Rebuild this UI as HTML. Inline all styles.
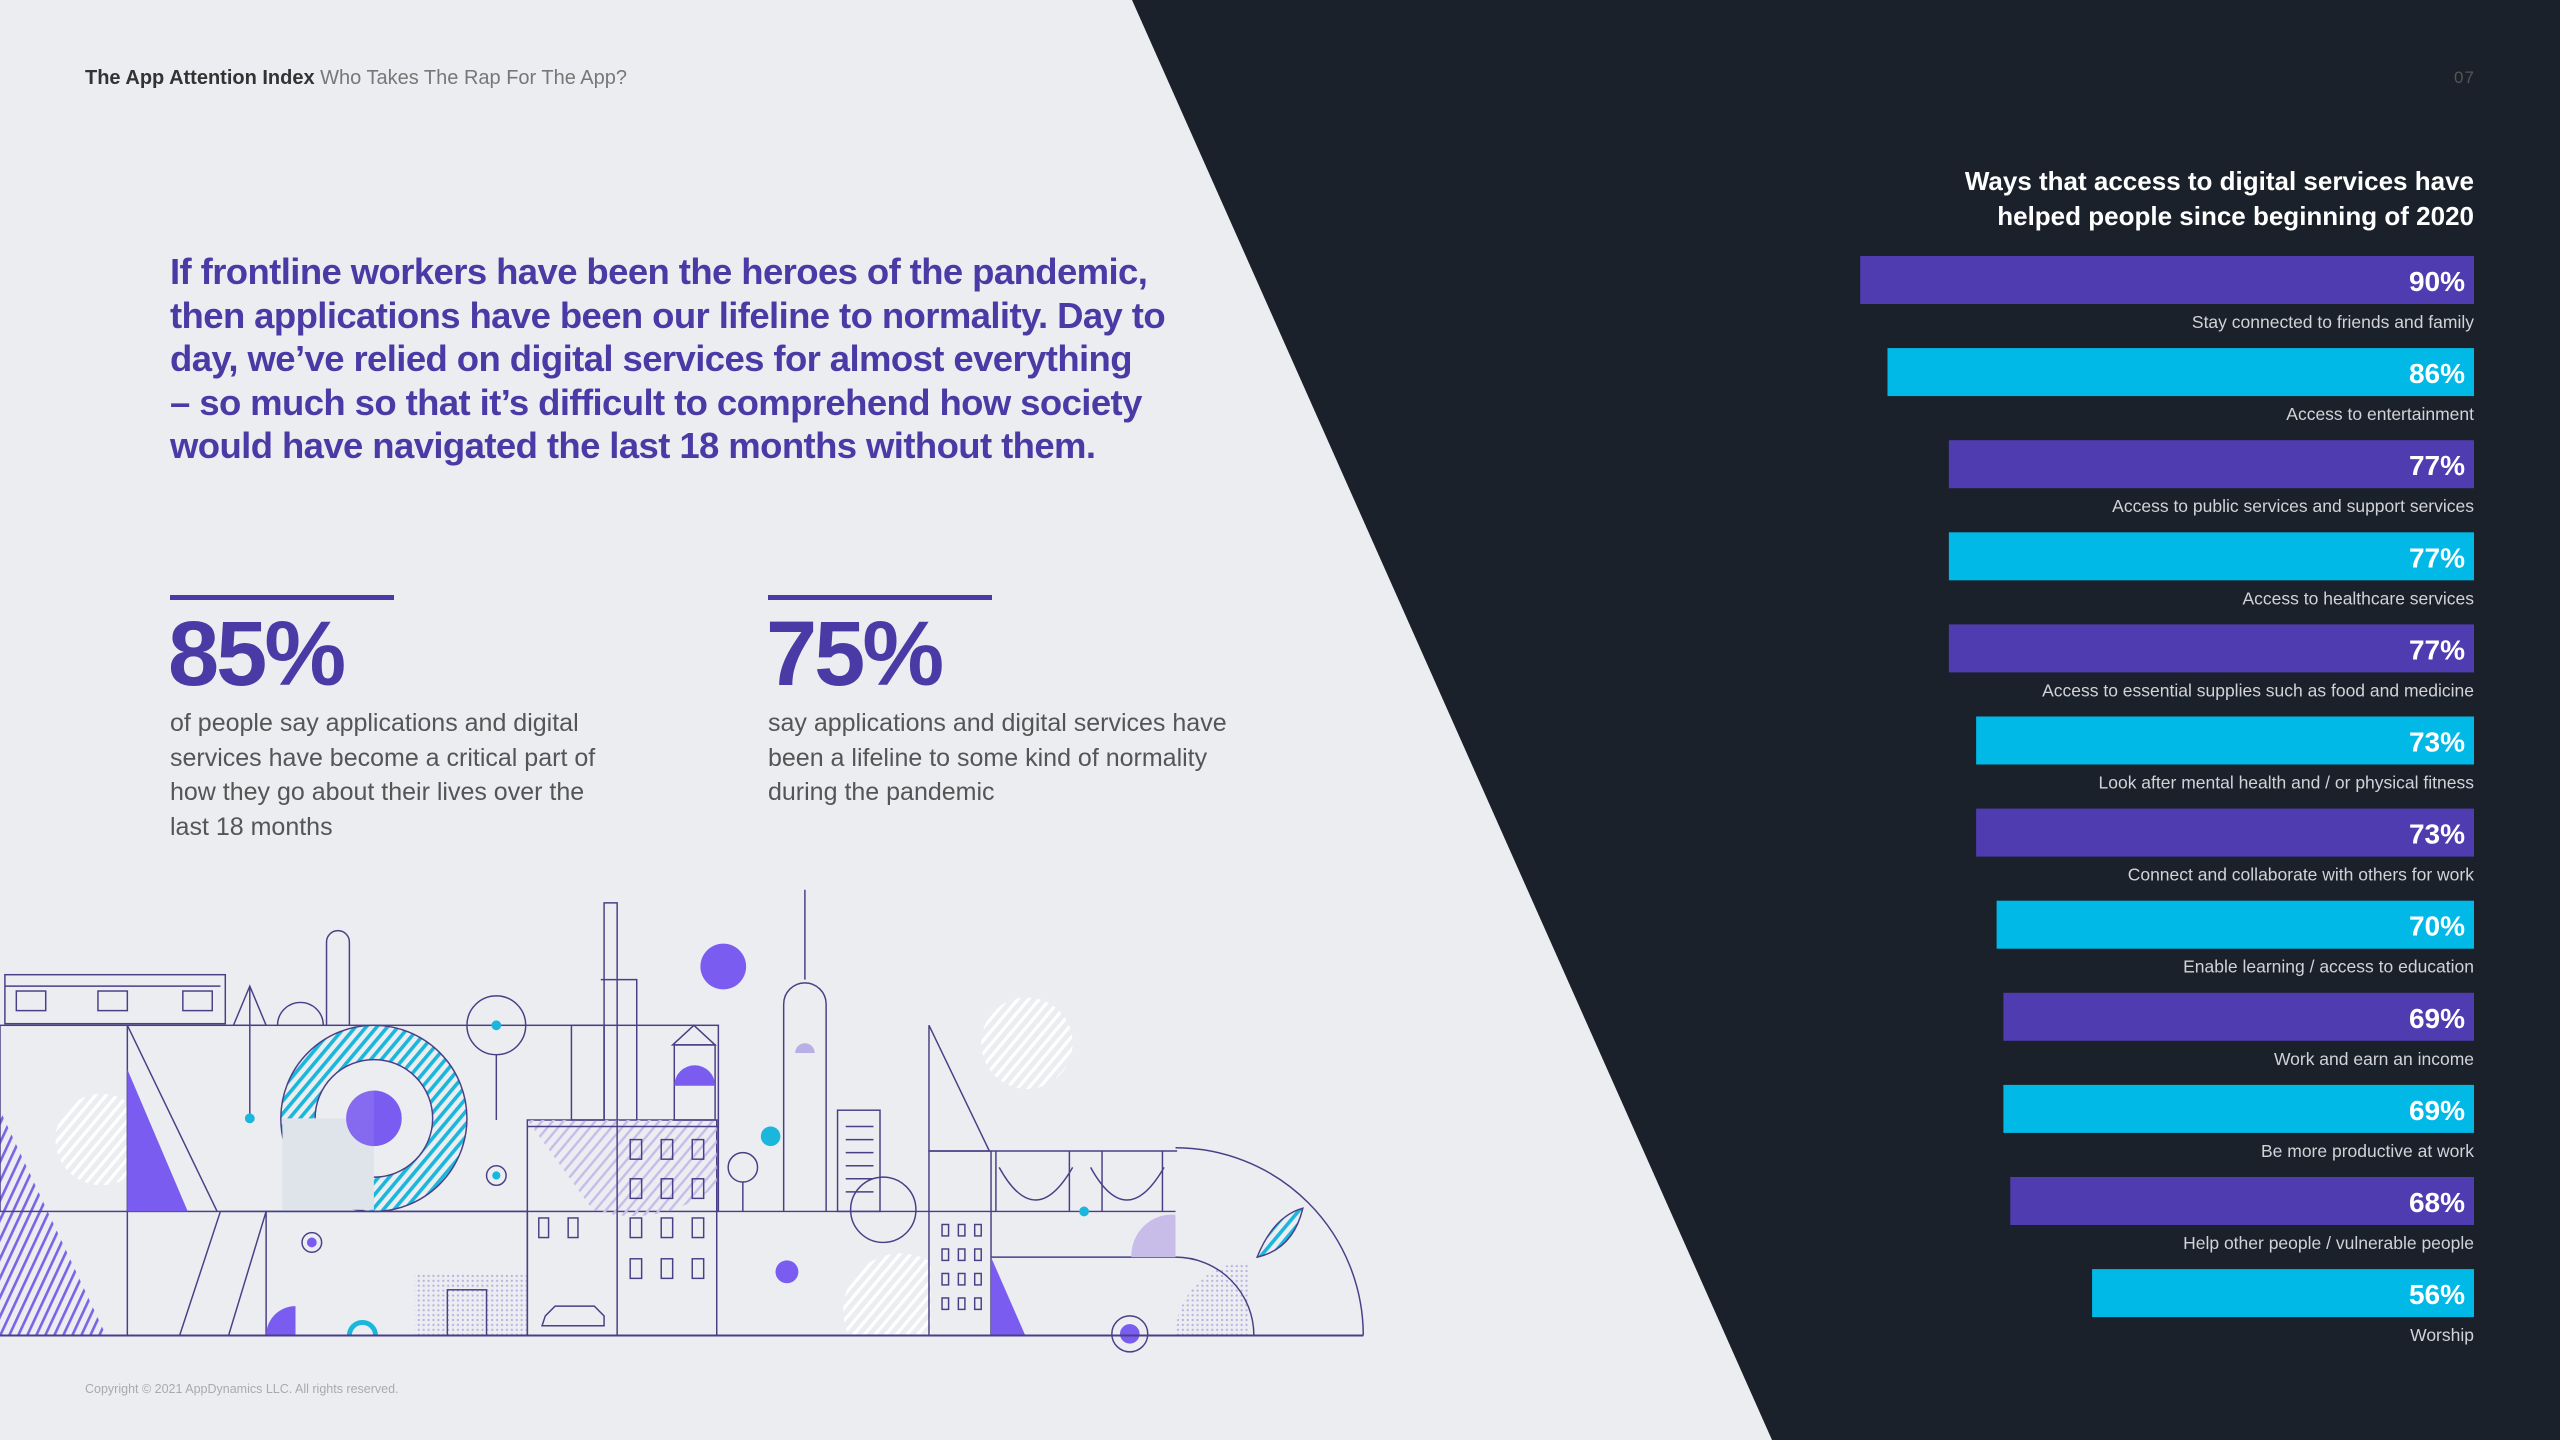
<!DOCTYPE html>
<html><head><meta charset="utf-8">
<style>
html,body{margin:0;padding:0;}
body{width:2560px;height:1440px;position:relative;overflow:hidden;background:#ebedf1;font-family:"Liberation Sans",sans-serif;}
.abs{position:absolute;}
#dark{position:absolute;left:0;top:0;width:2560px;height:1440px;}
.hdr{left:85px;top:67px;font-size:20px;color:#777;white-space:nowrap;}
.hdr b{color:#333;}
.pg{left:2454px;top:68px;font-size:17px;color:#555;letter-spacing:1px;}
.lead{left:170px;top:250px;width:1100px;font-size:36.5px;line-height:43.5px;font-weight:bold;color:#4a3aa6;letter-spacing:-0.6px;white-space:nowrap;}
.rule{height:5px;width:224px;background:#4a3aa6;}
.big{font-size:92px;font-weight:bold;color:#4a3aa6;letter-spacing:-3px;line-height:1;}
.body{font-size:25px;line-height:34.5px;color:#555;white-space:nowrap;}
.copy{left:85px;top:1382px;font-size:12.5px;color:#aaa;}
.ctitle{right:86px;top:164px;text-align:right;font-size:26px;line-height:35px;font-weight:bold;color:#fff;}
</style></head><body>
<svg id="dark" viewBox="0 0 2560 1440"><polygon points="1132,0 2560,0 2560,1440 1772,1440" fill="#1b212a"/></svg>

<div class="abs hdr"><b>The App Attention Index</b> Who Takes The Rap For The App?</div>
<div class="abs pg">07</div>

<div class="abs lead">If frontline workers have been the heroes of the pandemic,<br>then applications have been our lifeline to normality. Day to<br>day, we’ve relied on digital services for almost everything<br>– so much so that it’s difficult to comprehend how society<br>would have navigated the last 18 months without them.</div>

<div class="abs rule" style="left:170px;top:595px"></div>
<div class="abs big" style="left:168px;top:608px">85%</div>
<div class="abs body" style="left:170px;top:706px">of people say applications and digital<br>services have become a critical part of<br>how they go about their lives over the<br>last 18 months</div>

<div class="abs rule" style="left:768px;top:595px"></div>
<div class="abs big" style="left:766px;top:608px">75%</div>
<div class="abs body" style="left:768px;top:706px">say applications and digital services have<br>been a lifeline to some kind of normality<br>during the pandemic</div>

<svg class="abs" style="left:0;top:0" width="2560" height="1440" viewBox="0 0 1568 882">
<defs>
<pattern id="hc" width="5" height="5" patternUnits="userSpaceOnUse" patternTransform="rotate(40)"><rect width="2.2" height="5" fill="#1ab6dc"/></pattern>
<pattern id="hp" width="5" height="5" patternUnits="userSpaceOnUse" patternTransform="rotate(25)"><rect width="1.6" height="5" fill="#7b63e6"/></pattern>
<pattern id="hl" width="5" height="5" patternUnits="userSpaceOnUse" patternTransform="rotate(40)"><rect width="1.5" height="5" fill="#c7bde8"/></pattern>
<pattern id="hw" width="5" height="5" patternUnits="userSpaceOnUse" patternTransform="rotate(40)"><rect width="2" height="5" fill="#fff"/></pattern>
<pattern id="dt" width="3" height="3" patternUnits="userSpaceOnUse"><circle cx="1.5" cy="1.5" r="0.7" fill="#b8aee0"/></pattern>
</defs>
<g fill="none" stroke="#4a3f86" stroke-width="0.9">
<circle cx="629" cy="639" r="28" fill="url(#hw)" stroke="none"/>
<circle cx="62" cy="698" r="28" fill="url(#hw)" stroke="none"/>
<polygon points="0,680 65,818 0,818" fill="url(#hp)" stroke="none"/>
<rect x="3" y="597" width="135" height="30"/><line x1="3" y1="604" x2="135" y2="604"/>
<rect x="10" y="607" width="18" height="12"/><rect x="60" y="607" width="18" height="12"/><rect x="112" y="607" width="18" height="12"/>
<polygon points="153,604 143,628 163,628"/>
<path d="M200,628 V577 a7,7 0 0 1 14,0 V628"/>
<path d="M170,628 a14,14 0 0 1 28,0"/>
<rect x="0" y="628" width="440" height="114"/>
<line x1="78" y1="628" x2="78" y2="818"/>
<polygon points="78,655 115,742 78,742" fill="#7b5cf0" stroke="none"/>
<line x1="78" y1="628" x2="133" y2="742"/>
<circle cx="229" cy="685" r="57" fill="url(#hc)" stroke="#4a3f86"/>
<circle cx="229" cy="685" r="36" fill="#ebedf1"/>
<rect x="173" y="685" width="56" height="56" fill="#dfe3ea" stroke="none"/>
<path d="M229,668 a17,17 0 0 1 0,34 Z" fill="#7b5cf0" stroke="none"/>
<circle cx="229" cy="685" r="17" fill="#7b5cf0" stroke="none" opacity="0.9"/>
<line x1="153" y1="605" x2="153" y2="685"/><circle cx="153" cy="685" r="3" fill="#1ab6dc" stroke="none"/>
<circle cx="304" cy="628" r="18"/><circle cx="304" cy="628" r="3" fill="#1ab6dc" stroke="none"/><line x1="304" y1="646" x2="304" y2="686"/>
<rect x="163" y="742" width="160" height="76"/>
<polygon points="110,818 135,742 163,742 140,818"/>
<circle cx="191" cy="761" r="6"/><circle cx="191" cy="761" r="3" fill="#7b5cf0" stroke="none"/>
<path d="M163,818 a18,18 0 0 1 18,-18 V818 Z" fill="#7b5cf0" stroke="none"/>
<path d="M214,818 a8,8 0 0 1 16,0" stroke="#1ab6dc" stroke-width="3"/>
<rect x="254" y="780" width="70" height="38" fill="url(#dt)" stroke="none"/>
<rect x="274" y="790" width="24" height="28"/>
<rect x="323" y="686" width="116" height="132"/>
<path d="M323,686 h116 v40 a80,80 0 0 1 -76,15 Z" fill="url(#hl)" stroke="none"/>
<line x1="323" y1="690" x2="440" y2="690"/>
<rect x="350" y="628" width="20" height="58"/>
<path d="M370,686 V553 h8 V686 M368,600 h22 v86"/>
<polygon points="425,628 412,640 438,640"/><rect x="413" y="640" width="25" height="46"/>
<path d="M413,665 a12,12 0 0 1 25,0 Z" fill="#7b5cf0" stroke="none"/>
<g stroke="#4a3f86">
<rect x="386" y="698" width="7" height="12"/><rect x="405" y="698" width="7" height="12"/><rect x="424" y="698" width="7" height="12"/>
<rect x="386" y="722" width="7" height="12"/><rect x="405" y="722" width="7" height="12"/><rect x="424" y="722" width="7" height="12"/>
<rect x="386" y="746" width="7" height="12"/><rect x="405" y="746" width="7" height="12"/><rect x="424" y="746" width="7" height="12"/>
<rect x="386" y="771" width="7" height="12"/><rect x="405" y="771" width="7" height="12"/><rect x="424" y="771" width="7" height="12"/>
<rect x="330" y="746" width="6" height="12"/><rect x="348" y="746" width="6" height="12"/>
</g>
<line x1="378" y1="686" x2="378" y2="818"/>
<circle cx="304" cy="720" r="6"/><circle cx="304" cy="720" r="2.5" fill="#1ab6dc" stroke="none"/>
<path d="M332,812 h38 v-6 l-6,-6 h-24 l-6,6 z"/>
<path d="M493,545 V600 M480,742 V615 a13,13 0 0 1 26,0 V742"/>
<path d="M487,645 a6,6 0 0 1 12,0 Z" fill="#b9aee6" stroke="none"/>
<circle cx="472" cy="696" r="6" fill="#1ab6dc" stroke="none"/>
<circle cx="443" cy="592" r="14" fill="#7b5cf0" stroke="none"/>
<circle cx="455" cy="715" r="9"/><line x1="455" y1="724" x2="455" y2="742"/>
<rect x="513" y="680" width="26" height="62"/>
<g stroke="#4a3f86"><line x1="518" y1="690" x2="535" y2="690"/><line x1="518" y1="698" x2="535" y2="698"/><line x1="518" y1="706" x2="535" y2="706"/><line x1="518" y1="714" x2="535" y2="714"/><line x1="518" y1="722" x2="535" y2="722"/><line x1="518" y1="730" x2="535" y2="730"/></g>
<line x1="440" y1="742" x2="720" y2="742"/>
<circle cx="541" cy="741" r="20"/>
<circle cx="482" cy="779" r="7" fill="#7b5cf0" stroke="none"/>
<path d="M520,818 a35,35 0 0 1 50,-45 V818 Z" fill="url(#hw)" stroke="none"/>
<polygon points="569,628 606,705 569,705"/>
<rect x="569" y="705" width="38" height="113"/>
<polygon points="607,770 628,818 607,818" fill="#7b5cf0" stroke="none"/>
<g stroke="#4a3f86"><rect x="577" y="750" width="4" height="7"/><rect x="587" y="750" width="4" height="7"/><rect x="597" y="750" width="4" height="7"/>
<rect x="577" y="765" width="4" height="7"/><rect x="587" y="765" width="4" height="7"/><rect x="597" y="765" width="4" height="7"/>
<rect x="577" y="780" width="4" height="7"/><rect x="587" y="780" width="4" height="7"/><rect x="597" y="780" width="4" height="7"/>
<rect x="577" y="795" width="4" height="7"/><rect x="587" y="795" width="4" height="7"/><rect x="597" y="795" width="4" height="7"/></g>
<path d="M607,705 h114 M610,705 v37 M655,705 v37 M675,705 v37 M712,705 v37"/>
<path d="M612,715 q22,40 45,0 M668,715 q22,40 45,0"/>
<line x1="607" y1="770" x2="720" y2="770"/>
<circle cx="664" cy="742" r="3" fill="#1ab6dc" stroke="none"/>
<path d="M693,770 a25,25 0 0 1 27,-26 v26 Z" fill="#c7bde8" stroke="none"/>
<path d="M720,818 a45,45 0 0 1 45,-45 v45 Z" fill="url(#dt)" stroke="none"/>
<path d="M720,703 a115,115 0 0 1 115,115"/><path d="M720,770 a48,48 0 0 1 48,48"/>
<path d="M770,770 q10,-25 28,-30 q-6,25 -28,30 Z" fill="url(#hc)"/>
<circle cx="692" cy="817" r="11"/><circle cx="692" cy="817" r="6" fill="#7b5cf0" stroke="none"/>
<line x1="0" y1="818" x2="835" y2="818" stroke-width="1.2"/>
</g>
</svg>

<div class="abs copy">Copyright © 2021 AppDynamics LLC. All rights reserved.</div>

<div class="abs ctitle">Ways that access to digital services have<br>helped people since beginning of 2020</div>
<svg id="chart" class="abs" style="left:0;top:0" width="2560" height="1440"></svg>

<script>
const categories = ["Stay connected to friends and family","Access to entertainment","Access to public services and support services","Access to healthcare services","Access to essential supplies such as food and medicine","Look after mental health and / or physical fitness","Connect and collaborate with others for work","Enable learning / access to education","Work and earn an income","Be more productive at work","Help other people / vulnerable people","Worship"];
const values = [90,86,77,77,77,73,73,70,69,69,68,56];
const valueLabels = ["90%","86%","77%","77%","77%","73%","73%","70%","69%","69%","68%","56%"];

const NS = "http://www.w3.org/2000/svg";
const svg = document.getElementById("chart");
const right = 2474, pxPerUnit = 6.82, top0 = 256, step = 92.1, barH = 48;
function xLen(v){ return v * pxPerUnit; }
function yPos(i){ return top0 + i * step; }
values.forEach(function(v, i){
  const r = document.createElementNS(NS, "rect");
  r.setAttribute("x", right - xLen(v));
  r.setAttribute("y", yPos(i));
  r.setAttribute("width", xLen(v));
  r.setAttribute("height", barH);
  r.setAttribute("fill", i % 2 === 0 ? "#4f3cb0" : "#00b9e7");
  
  
  svg.appendChild(r);
  const t = document.createElementNS(NS, "text");
  t.setAttribute("x", right - 9);
  t.setAttribute("y", yPos(i) + 35);
  t.setAttribute("text-anchor", "end");
  t.setAttribute("fill", "#fff");
  t.setAttribute("font-size", "28");
  t.setAttribute("font-weight", "bold");
  t.setAttribute("font-family", "Liberation Sans, sans-serif");
  t.textContent = valueLabels[i];
  
  
  svg.appendChild(t);
  const c = document.createElementNS(NS, "text");
  c.setAttribute("x", right);
  c.setAttribute("y", yPos(i) + 72);
  c.setAttribute("text-anchor", "end");
  c.setAttribute("fill", "#d0d3d8");
  c.setAttribute("font-size", "17.5");
  c.setAttribute("font-family", "Liberation Sans, sans-serif");
  c.textContent = categories[i];
  
  
  svg.appendChild(c);
});
</script>
</body></html>
